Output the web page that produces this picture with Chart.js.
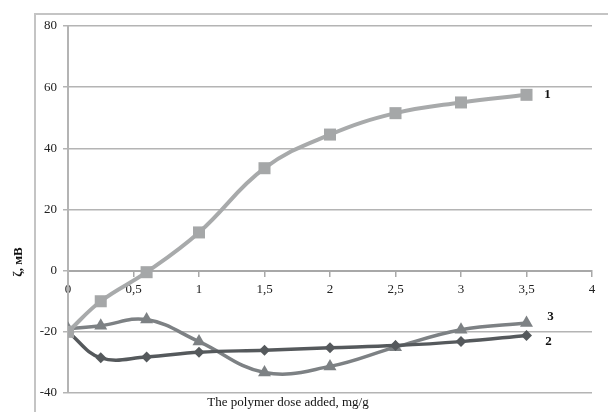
<!DOCTYPE html>
<html>
<head>
<meta charset="utf-8">
<script src="https://cdn.jsdelivr.net/npm/chart.js@4"></script>
<style>
  html, body { margin: 0; padding: 0; background: #fff; }
  #wrap { width: 608px; height: 412px; position: relative; }
</style>
</head>
<body>
<div id="wrap"><canvas id="zetaChart"></canvas></div>
<script>
// polymer dose, mg/g
var doses = [0, 0.25, 0.6, 1, 1.5, 2, 2.5, 3, 3.5];
// zeta potential, mV
var zeta1 = [-20, -10, -0.5, 12.5, 33.5, 44.5, 51.5, 55, 57.5];
var zeta2 = [-20, -28.5, -28.2, -26.7, -26, -25.2, -24.5, -23.2, -21.2];
var zeta3 = [-19, -18, -16, -23.2, -33.3, -31.3, -25, -19.3, -17.1];
var seriesNames = ['1', '2', '3'];

var xTitle = 'The polymer dose added, mg/g';
var yTitle = 'ζ, мВ';

var serif = '"Liberation Serif", "Times New Roman", serif';

function toPoints(ys) {
    return doses.map(function (x, i) { return { x: x, y: ys[i] }; });
}

// frame, axis titles and curve numbers
var decorPlugin = {
    id: 'decor',
    beforeDraw: function (chart) {
        var ctx = chart.ctx;
        ctx.save();
        ctx.strokeStyle = '#c4c4c4';
        ctx.lineWidth = 2;
        ctx.strokeRect(35, 14, 700, 500);
        ctx.restore();
    },
    afterDraw: function (chart) {
        var ctx = chart.ctx;
        var xs = chart.scales.x, ys = chart.scales.y;
        ctx.save();
        ctx.fillStyle = '#111';

        // x title
        ctx.font = '13px ' + serif;
        ctx.textAlign = 'center';
        ctx.textBaseline = 'middle';
        ctx.fillText(xTitle, 288, 403);

        // y title
        ctx.translate(19, 262);
        ctx.rotate(-Math.PI / 2);
        ctx.font = 'bold 13px ' + serif;
        ctx.fillText(yTitle, 0, 0);
        ctx.setTransform(1, 0, 0, 1, 0, 0);

        // curve numbers next to the last point
        var offsets = [[21, 0], [22, 6], [24, -6]];
        ctx.font = 'bold 13px ' + serif;
        ctx.textAlign = 'center';
        chart.data.datasets.forEach(function (ds, i) {
            var last = ds.data[ds.data.length - 1];
            var px = xs.getPixelForValue(last.x) + offsets[i][0];
            var py = ys.getPixelForValue(last.y) + offsets[i][1];
            ctx.fillText(seriesNames[i], px, py);
        });
        ctx.restore();
    }
};

var ctx = document.getElementById('zetaChart').getContext('2d');

new Chart(ctx, {
    type: 'line',
    data: {
        datasets: [
            {
                label: seriesNames[0],
                data: toPoints(zeta1),
                borderColor: '#a8aaab',
                backgroundColor: '#a5a7a8',
                borderWidth: 4,
                pointStyle: 'rect',
                pointRadius: 8.5,
                pointBorderWidth: 0,
                tension: 0.4
            },
            {
                label: seriesNames[1],
                data: toPoints(zeta2),
                borderColor: '#55595c',
                backgroundColor: '#55595c',
                borderWidth: 3.5,
                pointStyle: 'rectRot',
                pointRadius: 5.5,
                pointBorderWidth: 0,
                tension: 0.4
            },
            {
                label: seriesNames[2],
                data: toPoints(zeta3),
                borderColor: '#7d8184',
                backgroundColor: '#7d8184',
                borderWidth: 3.5,
                pointStyle: 'triangle',
                pointRadius: 7.5,
                pointBorderWidth: 0,
                tension: 0.4
            }
        ]
    },
    options: {
        responsive: true,
        maintainAspectRatio: false,
        animation: false,
        layout: {
            padding: { left: 0, right: 16, top: 26, bottom: 19 }
        },
        plugins: {
            legend: { display: false },
            tooltip: { enabled: false }
        },
        scales: {
            x: {
                type: 'linear',
                position: { y: 0 },
                min: 0,
                max: 4,
                ticks: {
                    stepSize: 0.5,
                    padding: 6,
                    color: '#222',
                    font: { family: serif, size: 13 },
                    callback: function (v) { return String(v).replace('.', ','); }
                },
                grid: {
                    drawOnChartArea: false,
                    drawTicks: true,
                    tickLength: 5,
                    color: '#a8a8a8',
                    lineWidth: 1.5
                },
                border: { display: true, color: '#a8a8a8', width: 2 }
            },
            y: {
                min: -40,
                max: 80,
                afterFit: function (scale) { scale.width = 68; },
                ticks: {
                    stepSize: 20,
                    padding: 6,
                    color: '#222',
                    font: { family: serif, size: 13 }
                },
                grid: {
                    color: '#b4b4b4',
                    lineWidth: 1.5,
                    tickLength: 5
                },
                border: { display: true, color: '#b4b4b4', width: 2 }
            }
        }
    },
    plugins: [decorPlugin]
});
</script>
</body>
</html>
